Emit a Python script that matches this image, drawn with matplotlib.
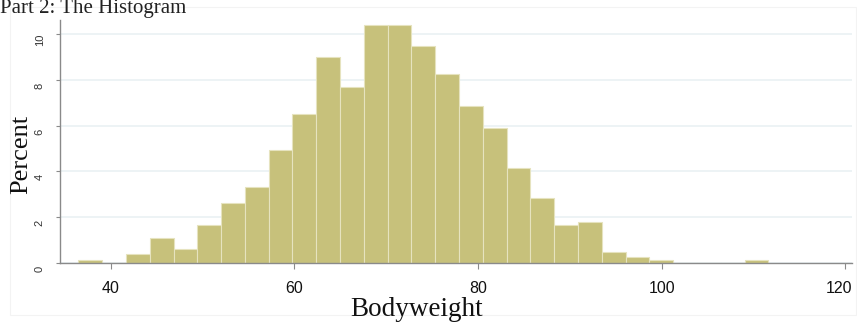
import matplotlib
matplotlib.use("Agg")
import matplotlib.pyplot as plt
import matplotlib.transforms as mtransforms
from matplotlib.patches import Rectangle

# ─── data ─────────────────────────────────────────────────────────────────────
bin_left = [36.50, 39.09, 41.68, 44.27, 46.86, 49.45, 52.04, 54.63, 57.22, 59.81,
            62.40, 64.99, 67.58, 70.17, 72.76, 75.35, 77.94, 80.53, 83.12, 85.71,
            88.30, 90.89, 93.48, 96.07, 98.66, 101.25, 103.84, 106.43, 109.02]
bin_width = 2.59
percent = [0.13, 0.0, 0.38, 1.08, 0.60, 1.66, 2.60, 3.30, 4.93, 6.49,
           8.97, 7.66, 10.38, 10.38, 9.45, 8.27, 6.86, 5.91, 4.13, 2.84,
           1.66, 1.78, 0.49, 0.26, 0.13, 0.0, 0.0, 0.0, 0.13]
x_ticks = [40, 60, 80, 100, 120]
y_ticks = [0, 2, 4, 6, 8, 10]

title = "Part 2: The Histogram"
xlabel = "Bodyweight"
ylabel = "Percent"

# ─── style ────────────────────────────────────────────────────────────────────
BAR = "#c7c17b"
BAR_EDGE = "#e6e3bf"
AXIS = "#8a8a8a"
GRID = "#eaf1f4"
SERIF = ["Liberation Serif", "DejaVu Serif"]
SANS = ["Liberation Sans", "DejaVu Sans"]

fig = plt.figure(figsize=(8.57, 3.24), dpi=100)
ax = fig.add_axes([0.070, 0.188, 0.924, 0.750])

# faint outer frame of the graph region
fig.patches.append(Rectangle((10 / 857, 1 - 315 / 324), 846 / 857, 308 / 324,
                             transform=fig.transFigure, fill=False,
                             edgecolor="#f3f3f3", linewidth=0.8))

ax.bar(bin_left, percent, width=bin_width, align="edge",
       color=BAR, edgecolor=BAR_EDGE, linewidth=0.8, zorder=2)

ax.set_xlim(34.5, 120.7)
ax.set_ylim(0, 10.6)

ax.set_yticks(y_ticks)
ax.set_xticks(x_ticks)
ax.grid(axis="y", color=GRID, linewidth=1.2, zorder=0)
ax.set_axisbelow(True)

for side in ("top", "right"):
    ax.spines[side].set_visible(False)
for side in ("left", "bottom"):
    ax.spines[side].set_color(AXIS)
    ax.spines[side].set_linewidth(1.0)

ax.tick_params(axis="x", length=4, width=0.8, color=AXIS, pad=9,
               labelsize=11.5, labelcolor="#111111")
ax.tick_params(axis="y", length=3, width=0.8, color=AXIS, pad=8,
               labelsize=8, labelcolor="#333333")
for lab in ax.get_xticklabels():
    lab.set_family(SANS)
# the last label sits against the right edge, as in the reference
last = ax.get_xticklabels()[-1]
last.set_transform(last.get_transform() +
                   mtransforms.ScaledTranslation(-6 / 100, 0, fig.dpi_scale_trans))
for lab in ax.get_yticklabels():
    lab.set_family(SANS)
    lab.set_rotation(90)
    lab.set_va("center")
    lab.set_transform(lab.get_transform() +
                      mtransforms.ScaledTranslation(0, -6 / 100, fig.dpi_scale_trans))

fig.text(0.0, 1 - 12.5 / 324, title, ha="left", va="baseline",
         fontsize=15, family=SERIF, color="#222222")
fig.text(417 / 857, 1 - 316 / 324, xlabel, ha="center", va="baseline",
         fontsize=19.5, family=SERIF, color="#111111")
fig.text(21 / 857, 1 - 154 / 324, ylabel, ha="center", va="center",
         rotation=90, fontsize=19, family=SERIF, color="#111111")

fig.savefig("out.png", dpi=100)
plt.close(fig)
